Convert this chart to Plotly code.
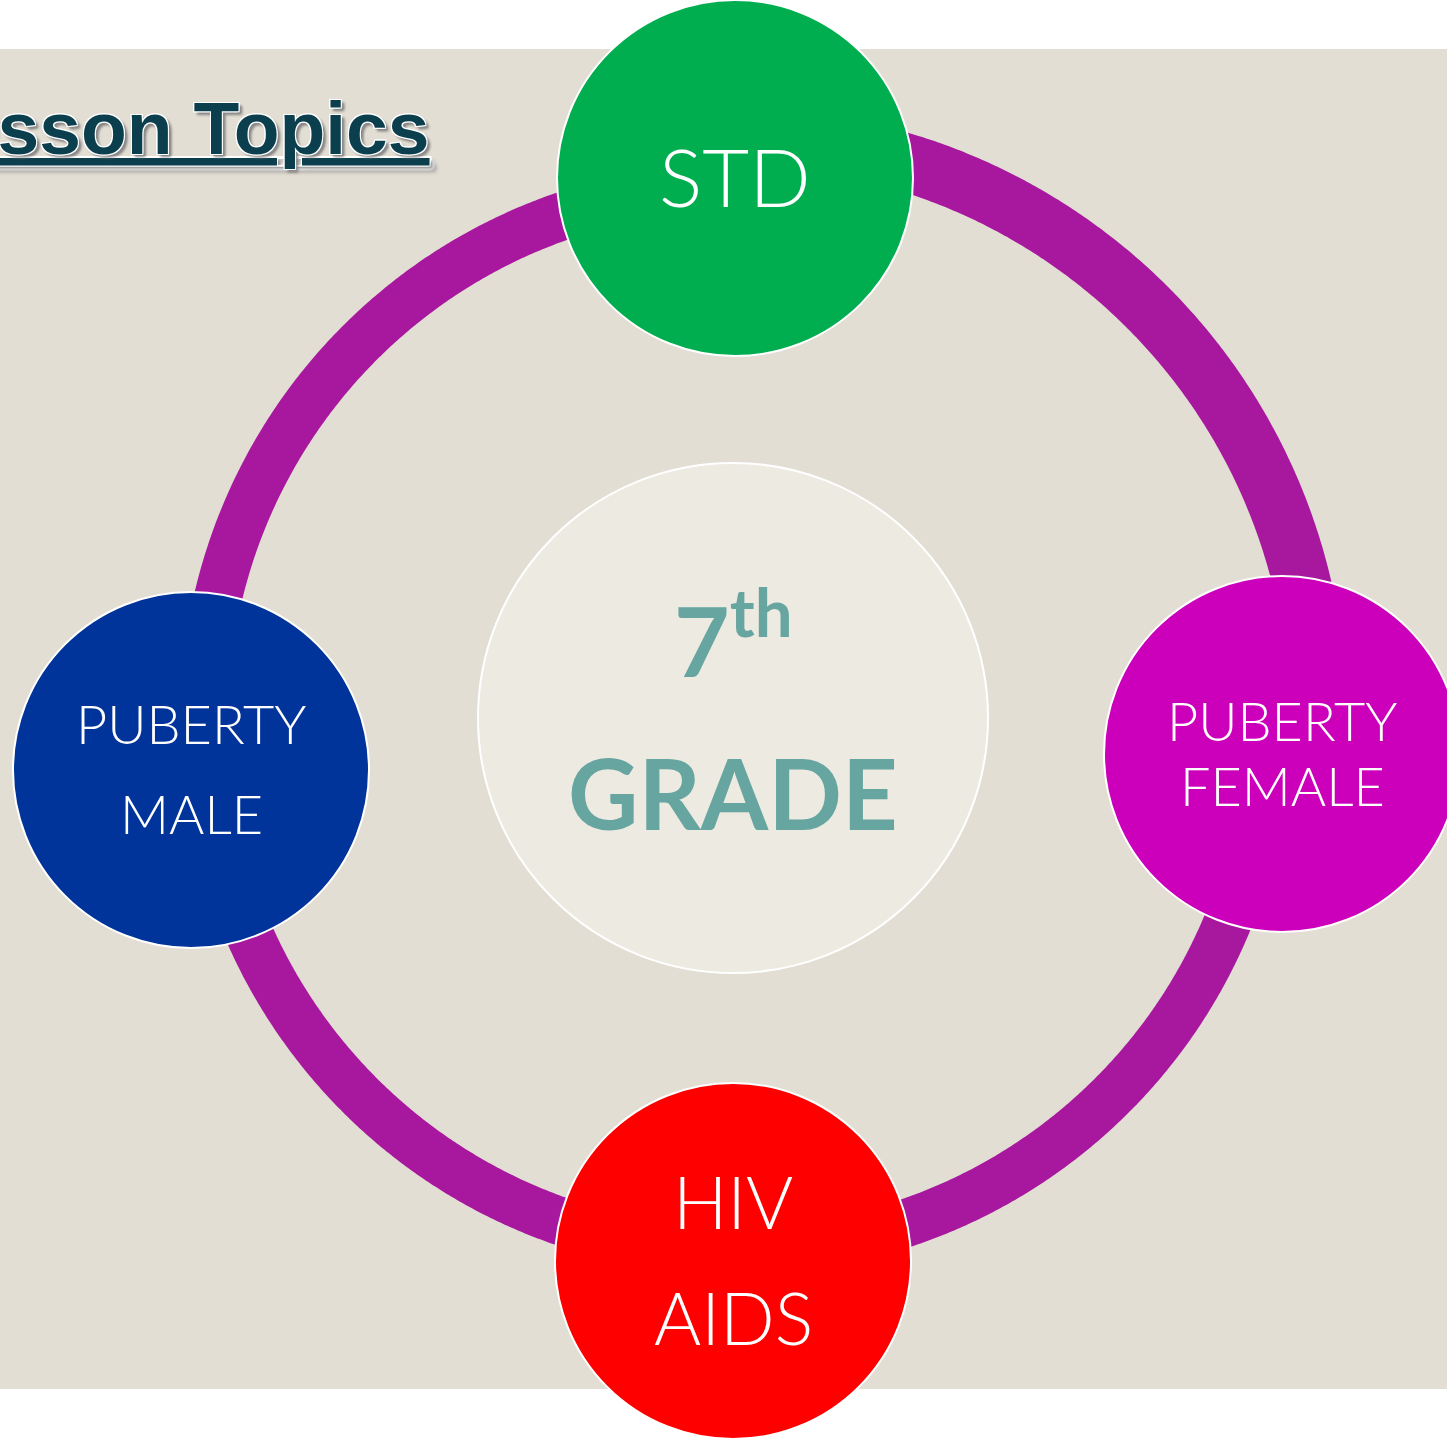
import numpy as np
import plotly.graph_objects as go

# ---- content ----
title_text = "Lesson Topics"
center_line1 = "7<sup>th</sup>"
center_line2 = "GRADE"
topic_names = ["STD", "PUBERTY FEMALE", "HIV AIDS", "PUBERTY MALE"]
topic_lines = [["STD"], ["PUBERTY", "FEMALE"], ["HIV", "AIDS"], ["PUBERTY", "MALE"]]
topic_colors = ["#00AE50", "#CC00BB", "#FF0000", "#00349A"]

# ---- layout geometry (pixels) ----
W, H = 1447, 1440
BG = "#E3DED3"
RING = "#A8189E"
ring_c = (736, 719)
node_centers = [(735, 178), (1282, 754), (733, 1261), (191, 770)]
node_r = 178
arc_radius = [582, 532, 532, 532]
arc_width = [58, 48, 48, 48]
text_sizes = [[81], [54, 54], [72, 72], [54, 54]]
text_y = [[175], [720, 785], [1201, 1317], [723, 813]]

fig = go.Figure()

# background panel
shapes = [dict(type="rect", x0=0, x1=W, y0=49, y1=1389, fillcolor=BG,
               line=dict(width=0), layer="below")]

# connecting arcs
def ang(p):
    return np.degrees(np.arctan2(p[1] - ring_c[1], p[0] - ring_c[0]))

n = len(node_centers)
for i in range(n):
    a0 = ang(node_centers[i])
    a1 = ang(node_centers[(i + 1) % n])
    if a1 < a0:
        a1 += 360
    t = np.radians(np.linspace(a0, a1, 300))
    r = arc_radius[i]
    fig.add_trace(go.Scatter(x=ring_c[0] + r * np.cos(t), y=ring_c[1] + r * np.sin(t),
                             mode="lines",
                             line=dict(color=RING, width=arc_width[i], simplify=False),
                             hoverinfo="skip", showlegend=False))

# centre circle
shapes.append(dict(type="circle", x0=733 - 255, x1=733 + 255, y0=718 - 255, y1=718 + 255,
                   fillcolor="#EDEAE2", line=dict(color="white", width=2), layer="above"))

# topic circles
for (cx, cy), col in zip(node_centers, topic_colors):
    shapes.append(dict(type="circle", x0=cx - node_r, x1=cx + node_r, y0=cy - node_r, y1=cy + node_r,
                       fillcolor=col, line=dict(color="white", width=2), layer="above"))

annotations = []
for (cx, cy), lines, sizes, ys in zip(node_centers, topic_lines, text_sizes, text_y):
    for txt, s, yy in zip(lines, sizes, ys):
        annotations.append(dict(x=cx, y=yy, text=txt, showarrow=False, xanchor="center",
                                yanchor="middle",
                                font=dict(family="Lato, 'Open Sans', sans-serif", size=s,
                                          color="white", weight=300)))

TEAL = "#66A5A0"
annotations.append(dict(x=733, y=634, text=center_line1, showarrow=False, xanchor="center",
                        yanchor="middle",
                        font=dict(family="Lato, sans-serif", size=96, color=TEAL, weight=700)))
annotations.append(dict(x=733, y=792, text=center_line2, showarrow=False, xanchor="center",
                        yanchor="middle",
                        font=dict(family="Lato, sans-serif", size=97, color=TEAL, weight=700)))

annotations.append(dict(x=432, y=128, text="<u>" + title_text + "</u>", showarrow=False,
                        xanchor="right", yanchor="middle",
                        font=dict(family="Liberation Sans, Arial, sans-serif", size=75,
                                  color="#0C3F4E", weight=700,
                                  shadow="1px 1px 0 #fff, -1px -1px 0 #fff, 1px -1px 0 #fff, -1px 1px 0 #fff, 3px 3px 3px #888")))

fig.update_layout(
    width=W, height=H, margin=dict(l=0, r=0, t=0, b=0),
    paper_bgcolor="white", plot_bgcolor="white",
    xaxis=dict(range=[0, W], visible=False, fixedrange=True),
    yaxis=dict(range=[H, 0], visible=False, fixedrange=True),
    shapes=shapes, annotations=annotations, showlegend=False,
)

fig.write_html("out.html", config={"displayModeBar": False},
               post_script="document.body.style.margin='0';document.body.style.overflow='hidden';")
